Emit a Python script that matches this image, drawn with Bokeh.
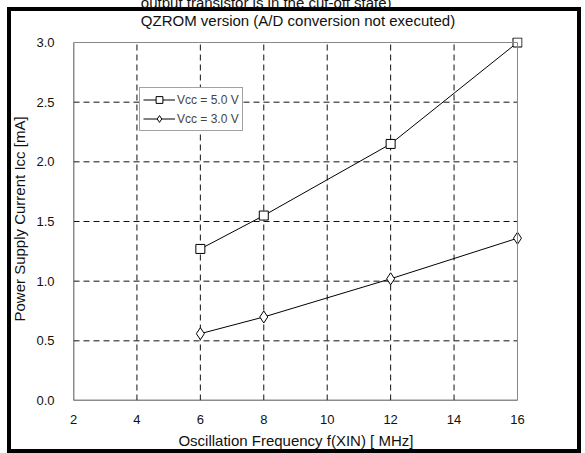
from bokeh.plotting import figure
from bokeh.models import Range1d, Title, BoxAnnotation, Legend, LegendItem, FixedTicker, NumeralTickFormatter
from bokeh.embed import file_html
from bokeh.resources import INLINE

freq = [6, 8, 12, 16]
icc_5v = [1.27, 1.55, 2.15, 3.0]
icc_3v = [0.56, 0.70, 1.02, 1.36]
x_ticks = [2, 4, 6, 8, 10, 12, 14, 16]
y_ticks = [0.0, 0.5, 1.0, 1.5, 2.0, 2.5, 3.0]
title_text = "QZROM version (A/D conversion not executed)"
top_text = "output transistor is in the cut-off state)"
x_label = "Oscillation Frequency f(XIN)  [ MHz]"
y_label = "Power Supply Current Icc [mA]"

FONT = "Liberation Sans"
X0, X1 = x_ticks[0], x_ticks[-1]
Y0, Y1 = y_ticks[0], y_ticks[-1]
SHIFT = 20  # figure is shifted up so the first text line is cut, as in the original

bars = "linear-gradient(#000,#000)"
# frame: x 73..522 (16 at 517), y 37..400 (3.0 at 42)
p = figure(width=585, height=453 + SHIFT, output_backend="svg", toolbar_location=None,
           x_range=Range1d(X0, X1 + 0.158), y_range=Range1d(Y0, Y1 + 0.042),
           min_border_left=73, min_border_right=63, min_border_top=37 + SHIFT,
           min_border_bottom=53)
p.styles = {
    "margin-top": f"-{SHIFT}px",
    "background-color": "white",
    "background-image": ", ".join([bars] * 4),
    "background-size": "574px 4px, 574px 4px, 4px 446px, 4px 446px",
    "background-position": f"7px {7 + SHIFT}px, 7px {449 + SHIFT}px, 7px {7 + SHIFT}px, 577px {7 + SHIFT}px",
    "background-repeat": "no-repeat",
}
p.outline_line_color = None
p.background_fill_color = "white"
p.border_fill_color = None

for ax in (p.xaxis[0], p.yaxis[0]):
    ax.major_tick_line_color = None
    ax.minor_tick_line_color = None
    ax.axis_line_color = None
    ax.major_label_text_font = FONT
    ax.major_label_text_font_size = "13px"
    ax.major_label_text_color = "#111111"
    ax.axis_label_text_font = FONT
    ax.axis_label_text_font_size = "15px"
    ax.axis_label_text_font_style = "normal"
    ax.axis_label_text_color = "#111111"

p.xaxis[0].ticker = FixedTicker(ticks=x_ticks)
p.yaxis[0].ticker = FixedTicker(ticks=y_ticks)
p.yaxis[0].formatter = NumeralTickFormatter(format="0.0")
p.xaxis[0].axis_label = x_label
p.yaxis[0].axis_label = y_label
p.xaxis[0].major_label_standoff = 8
p.yaxis[0].major_label_standoff = 13
p.xaxis[0].axis_label_standoff = 5
p.yaxis[0].axis_label_standoff = 5

p.xgrid.visible = False
p.ygrid.visible = False

# dashed grid lines within the plotting box
gx = x_ticks[1:-1]
p.segment(x0=gx, y0=[Y0] * len(gx), x1=gx, y1=[Y1] * len(gx),
          line_color="#111111", line_width=1, line_dash="6 4")
gy = y_ticks[1:-1]
p.segment(x0=[X0] * len(gy), y0=gy, x1=[X1] * len(gy), y1=gy,
          line_color="#111111", line_width=1, line_dash="6 4")

# plotting box: grey top/right, dark left/bottom
p.add_layout(BoxAnnotation(left=X0, right=X1, bottom=Y0, top=Y1, fill_alpha=0,
                           line_color="#888888", line_alpha=1, line_width=1))
p.segment(x0=[X0, X0], y0=[Y0, Y0], x1=[X0, X1], y1=[Y1, Y0],
          line_color="#222222", line_width=1.5)

l5 = p.line(freq, icc_5v, line_color="black", line_width=1)
m5 = p.scatter(freq, icc_5v, marker="square", size=9, fill_color="white", line_color="black", line_width=1)
l3 = p.line(freq, icc_3v, line_color="black", line_width=1)
m3 = p.scatter(freq, icc_3v, marker="diamond", size=12, fill_color="white", line_color="black", line_width=1)

legend = Legend(items=[LegendItem(label="Vcc = 5.0 V", renderers=[l5, m5]),
                       LegendItem(label="Vcc = 3.0 V", renderers=[l3, m3])],
                location=(66, 269))
legend.label_text_font = FONT
legend.label_text_font_size = "12px"
legend.border_line_color = "#444444"
legend.border_line_width = 1
legend.background_fill_alpha = 1
legend.glyph_width = 32
legend.glyph_height = 17
legend.label_height = 17
legend.spacing = 2
legend.padding = 3
legend.margin = 0
legend.label_standoff = 2
p.add_layout(legend, "center")

p.add_layout(Title(text=top_text + "\n" + title_text, align="center", standoff=16,
                   text_font=FONT, text_font_size="15px", text_font_style="normal",
                   text_color="#111111", text_line_height=1.07), "above")

open("out.html", "w").write(file_html(p, INLINE))
